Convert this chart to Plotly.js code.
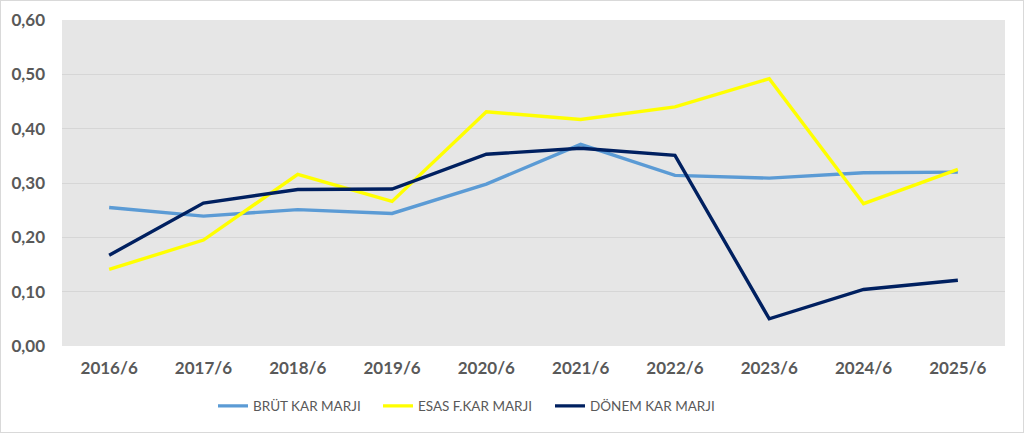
<!DOCTYPE html>
<html>
<head>
<meta charset="utf-8">
<script src="https://cdn.plot.ly/plotly-3.0.1.min.js"></script>
<style>
  html, body { margin: 0; padding: 0; background: #ffffff; }
  #chart { width: 1022px; height: 431px; border: 1px solid #d9d9d9; }
</style>
</head>
<body>
<div id="chart"></div>
<script>
// Periods on the category axis
const periods = ["2016/6", "2017/6", "2018/6", "2019/6", "2020/6", "2021/6", "2022/6", "2023/6", "2024/6", "2025/6"];

// Margin series
const brutKarMarji = [0.255, 0.239, 0.251, 0.244, 0.298, 0.371, 0.314, 0.309, 0.319, 0.320];
const esasFKarMarji = [0.141, 0.195, 0.316, 0.266, 0.431, 0.417, 0.440, 0.492, 0.262, 0.325];
const donemKarMarji = [0.167, 0.263, 0.288, 0.289, 0.353, 0.364, 0.351, 0.050, 0.104, 0.121];

const seriesNames = ["BRÜT KAR MARJI", "ESAS F.KAR MARJI", "DÖNEM KAR MARJI"];
const yTicks = [0, 0.1, 0.2, 0.3, 0.4, 0.5, 0.6];

const fontFamily = 'Lato, "Open Sans", sans-serif';
const W = 1022, H = 431;

const mk = (name, y, color, legendId) => ({
  type: "scatter",
  mode: "lines",
  name: name,
  x: periods,
  y: y,
  legend: legendId,
  line: { color: color, width: 3.4 },
  hoverinfo: "x+y+name"
});

const traces = [
  mk(seriesNames[0], brutKarMarji, "#5b9bd5", "legend"),
  mk(seriesNames[1], esasFKarMarji, "#ffff00", "legend2"),
  mk(seriesNames[2], donemKarMarji, "#002060", "legend3")
];

// one legend box per series, laid out along the bottom row
const legendAt = (leftPx) => ({
  orientation: "h",
  xref: "container",
  x: leftPx / W,
  xanchor: "left",
  yref: "container",
  y: 0.06,
  yanchor: "middle",
  itemwidth: 30,
  bgcolor: "rgba(0,0,0,0)",
  font: { family: fontFamily, size: 13.5, color: "#595959", weight: "normal" }
});

const layout = {
  width: W,
  height: H,
  margin: { l: 61, r: 18, t: 19, b: 86, autoexpand: false },
  paper_bgcolor: "#ffffff",
  plot_bgcolor: "#e6e6e6",
  separators: ", ",
  font: { family: fontFamily, size: 17, color: "#595959", weight: "bold" },
  showlegend: true,
  legend: legendAt(212),
  legend2: legendAt(377),
  legend3: legendAt(549),
  xaxis: {
    type: "category",
    range: [-0.5, 9.5],
    automargin: false,
    showgrid: false,
    zeroline: false,
    showline: false,
    ticks: "",
    ticklabelstandoff: 10,
    tickfont: { family: fontFamily, size: 17, color: "#595959", weight: "bold" }
  },
  yaxis: {
    range: [0, 0.6],
    automargin: false,
    tickvals: yTicks,
    tickformat: ".2f",
    showgrid: true,
    gridcolor: "#d6d6d6",
    gridwidth: 1,
    zeroline: false,
    showline: false,
    ticks: "",
    ticklabelstandoff: 16,
    tickfont: { family: fontFamily, size: 17, color: "#595959", weight: "bold" }
  }
};

Plotly.newPlot("chart", traces, layout, { displayModeBar: false, staticPlot: true });
</script>
</body>
</html>
